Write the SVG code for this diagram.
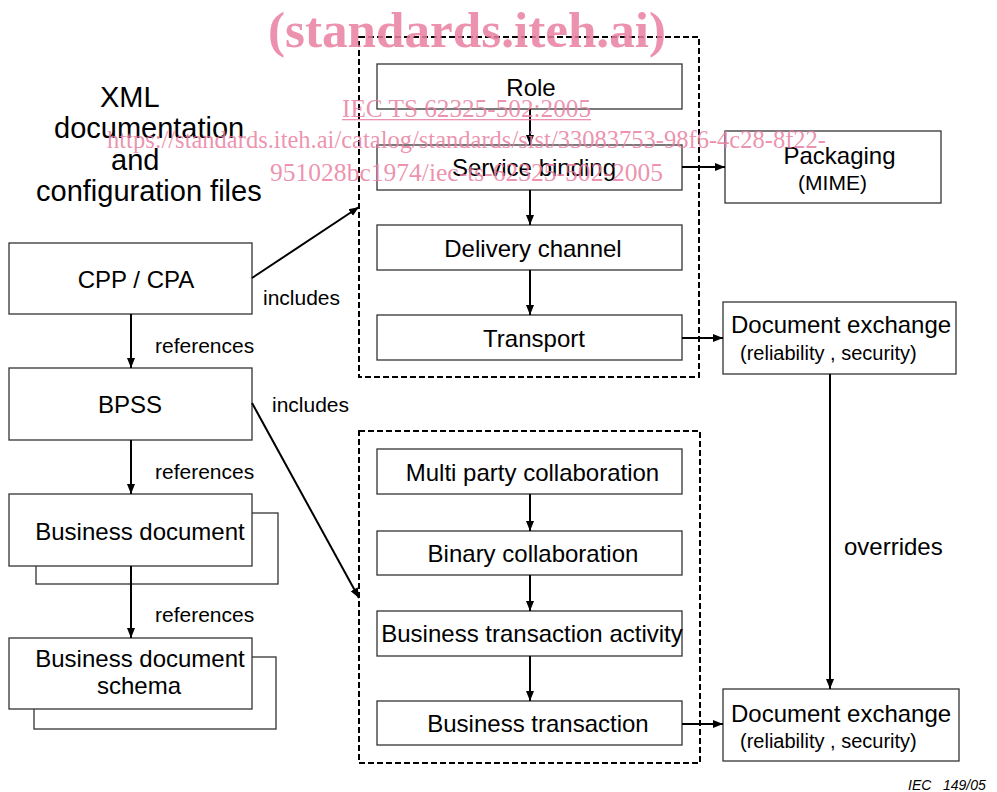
<svg xmlns="http://www.w3.org/2000/svg" width="997" height="792" viewBox="0 0 997 792">
<defs>
<style>
.box{fill:#fff;stroke:#333;stroke-width:1.3}
.dash{fill:none;stroke:#000;stroke-width:2;stroke-dasharray:6 3}
.t{font-family:"Liberation Sans",Arial,sans-serif;fill:#000}
.c{text-anchor:middle}
.f24{font-size:24px}
.f21{font-size:21px}
.f20{font-size:20px}
.f28{font-size:29px}
.ln{stroke:#000;stroke-width:2;fill:none}
.wm{font-family:"Liberation Serif","Times New Roman",serif;fill:#e97fa1;fill-opacity:0.85}
</style>
<marker id="ah" viewBox="0 0 10 10" refX="10" refY="5" markerWidth="10" markerHeight="10" markerUnits="userSpaceOnUse" orient="auto">
<path d="M0,1 L10,5 L0,9 z" fill="#000"/>
</marker>
</defs>
<rect width="997" height="792" fill="#fff"/>

<g id="title-text">
<text class="t f28" x="100" y="107">XML</text>
<text class="t f28" x="54" y="138">documentation</text>
<text class="t f28" x="111" y="170">and</text>
<text class="t f28" x="36" y="201">configuration files</text>
</g>

<g id="group-cpa">
<rect class="dash" x="359" y="37" width="340" height="340"/>
</g>
<g id="group-bpss">
<rect class="dash" x="359" y="431" width="341" height="332"/>
</g>

<g id="node-role"><rect class="box" x="377" y="64" width="305" height="45"/><text class="t f24 c" x="531" y="96">Role</text></g>
<g id="node-service"><rect class="box" x="377" y="145" width="305" height="45"/><text class="t f24 c" x="534" y="176">Service binding</text></g>
<g id="node-delivery"><rect class="box" x="377" y="225" width="305" height="45"/><text class="t f24 c" x="533" y="257">Delivery channel</text></g>
<g id="node-transport"><rect class="box" x="377" y="315" width="305" height="45"/><text class="t f24 c" x="534" y="347">Transport</text></g>

<g id="node-packaging"><rect class="box" x="725" y="131" width="216" height="72"/><text class="t f24 c" x="839.5" y="164">Packaging</text><text class="t f21 c" x="832.5" y="190">(MIME)</text></g>
<g id="node-docex1"><rect class="box" x="723" y="302" width="233" height="72"/><text class="t f24" x="731" y="333">Document exchange</text><text class="t f20" x="740" y="360">(reliability , security)</text></g>
<g id="node-docex2"><rect class="box" x="723" y="689" width="236" height="72"/><text class="t f24" x="731" y="722">Document exchange</text><text class="t f20" x="740" y="748">(reliability , security)</text></g>

<g id="node-mpc"><rect class="box" x="377" y="449" width="305" height="45"/><text class="t f24 c" x="532.5" y="481">Multi party collaboration</text></g>
<g id="node-bc"><rect class="box" x="377" y="531" width="305" height="44"/><text class="t f24 c" x="533" y="562">Binary collaboration</text></g>
<g id="node-bta"><rect class="box" x="377" y="611" width="305" height="45"/><text class="t f24 c" x="532" y="642">Business transaction activity</text></g>
<g id="node-bt"><rect class="box" x="377" y="701" width="305" height="44"/><text class="t f24 c" x="538" y="732">Business transaction</text></g>

<g id="node-cpp"><rect class="box" x="9" y="243" width="243" height="71"/><text class="t f24 c" x="136" y="288">CPP / CPA</text></g>
<g id="node-bpss"><rect class="box" x="9" y="368" width="243" height="72"/><text class="t f24 c" x="130" y="413">BPSS</text></g>
<g id="node-bdoc"><rect class="box" x="36" y="513" width="242" height="71"/><rect class="box" x="9" y="494" width="243" height="72"/><text class="t f24 c" x="140" y="540">Business document</text></g>
<g id="node-bdocschema"><rect class="box" x="34" y="657" width="242" height="72"/><rect class="box" x="9" y="638" width="243" height="71"/><text class="t f24 c" x="140" y="667">Business document</text><text class="t f24 c" x="139" y="694">schema</text></g>

<g id="connectors">
<line class="ln" x1="530" y1="109" x2="530" y2="145" marker-end="url(#ah)"/>
<line class="ln" x1="530" y1="190" x2="530" y2="225" marker-end="url(#ah)"/>
<line class="ln" x1="530" y1="270" x2="530" y2="315" marker-end="url(#ah)"/>
<line class="ln" x1="682" y1="167" x2="725" y2="167" marker-end="url(#ah)"/>
<line class="ln" x1="682" y1="338" x2="723" y2="338" marker-end="url(#ah)"/>
<line class="ln" x1="682" y1="724" x2="723" y2="724" marker-end="url(#ah)"/>
<line class="ln" x1="530" y1="494" x2="530" y2="531" marker-end="url(#ah)"/>
<line class="ln" x1="530" y1="575" x2="530" y2="611" marker-end="url(#ah)"/>
<line class="ln" x1="530" y1="656" x2="530" y2="701" marker-end="url(#ah)"/>
<line class="ln" x1="830" y1="374" x2="830" y2="689" marker-end="url(#ah)"/>
<line class="ln" x1="131" y1="314" x2="131" y2="368" marker-end="url(#ah)"/>
<line class="ln" x1="131" y1="440" x2="131" y2="494" marker-end="url(#ah)"/>
<line class="ln" x1="131" y1="566" x2="131" y2="638" marker-end="url(#ah)"/>
<line class="ln" x1="252" y1="278" x2="359" y2="207" marker-end="url(#ah)"/>
<line class="ln" x1="252" y1="403" x2="359" y2="598" marker-end="url(#ah)"/>
<text class="t f21" x="263" y="305">includes</text>
<text class="t f21" x="272" y="412">includes</text>
<text class="t f21" x="155" y="353">references</text>
<text class="t f21" x="155" y="479">references</text>
<text class="t f21" x="155" y="622">references</text>
<text class="t f24" x="844" y="555">overrides</text>
</g>

<text class="t" x="908" y="790" font-size="14" font-style="italic" xml:space="preserve">IEC   149/05</text>

<g id="watermark">
<text class="wm" x="268" y="47" font-size="51" font-weight="bold" textLength="398" lengthAdjust="spacingAndGlyphs">(standards.iteh.ai)</text>
<text class="wm" x="342" y="117" font-size="25" textLength="249" lengthAdjust="spacingAndGlyphs">IEC TS 62325-502:2005</text>
<rect x="342" y="119" width="249" height="1.3" fill="#e97fa1" fill-opacity="0.85"/>
<text class="wm" x="107" y="148" font-size="25" textLength="719" lengthAdjust="spacingAndGlyphs">https://standards.iteh.ai/catalog/standards/sist/33083753-98f6-4c28-8f22-</text>
<text class="wm" x="270" y="181" font-size="25" textLength="393" lengthAdjust="spacingAndGlyphs">951028bc1974/iec-ts-62325-502-2005</text>
</g>
</svg>
